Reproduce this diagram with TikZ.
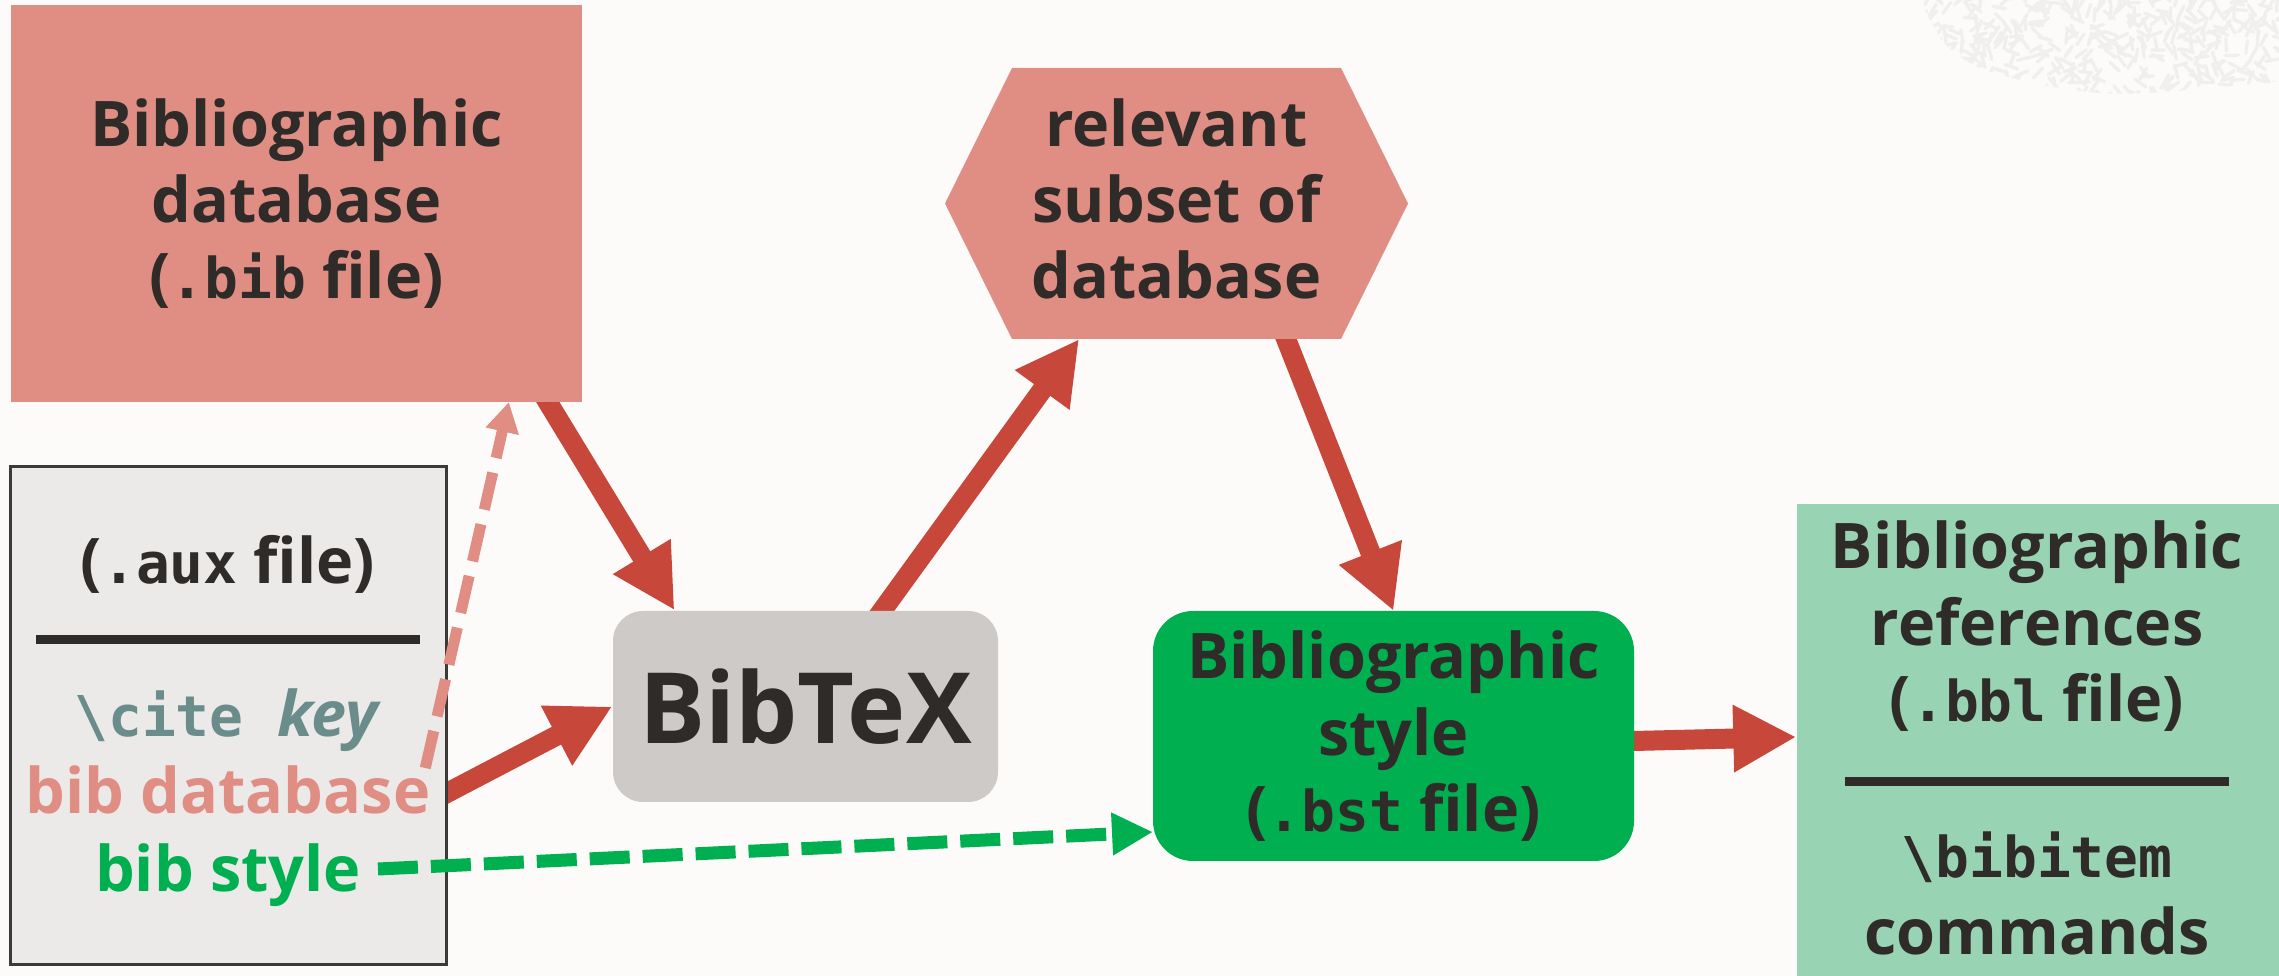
\documentclass[tikz,border=0pt]{standalone}
\usepackage{fontspec}
\setmainfont{Open Sans}
\setmonofont{DejaVu Sans Mono}
\usetikzlibrary{arrows.meta,calc}

\definecolor{paper}{HTML}{FCFBFA}
\definecolor{speckle}{HTML}{F0EFED}
\definecolor{ink}{HTML}{2F2B29}
\definecolor{salmon}{HTML}{E08D83}
\definecolor{brick}{HTML}{C7483A}
\definecolor{stone}{HTML}{CECAC8}
\definecolor{auxfill}{HTML}{EBEAE9}
\definecolor{auxedge}{HTML}{3C3A39}
\definecolor{leaf}{HTML}{00AF4F}
\definecolor{mint}{HTML}{98D3B3}
\definecolor{slate}{HTML}{6A8D8C}

% strut: every line gets the same height and depth
\newcommand\ls{\rule[-0.25\baselineskip]{0pt}{\baselineskip}}
\newcommand\mono[1]{{\fontsize{16}{21.63}\ttfamily #1}}

\pgfdeclarelayer{paperlayer}
\pgfdeclarelayer{arrowlayer}
\pgfsetlayers{paperlayer,arrowlayer,main}

\tikzset{
  boxtext/.style={font=\fontsize{17.9}{21.63}\selectfont\bfseries, text=ink,
    align=center, inner sep=0pt, outer sep=0pt},
  flow/.style={draw=brick, line width=2mm,
    -{Triangle[length=6.3mm,width=6.3mm]}, shorten <=-2mm},
  dbref/.style={draw=salmon, line width=1.1mm, dash pattern=on 3.8mm off 1.5mm,
    -{Triangle[length=3mm,width=3.2mm]}},
  styleref/.style={draw=leaf, line width=1.3mm, dash pattern=on 4mm off 1.3mm,
    -{Triangle[length=4.1mm,width=4mm]}},
  divider/.style={draw=ink, line width=0.9mm},
}

\begin{document}
\begin{tikzpicture}[x=0.1mm, y=-0.1mm]
\useasboundingbox (0,0) rectangle (2279,976);

% paper and speckled patch in the corner
\begin{pgfonlayer}{paperlayer}
  \fill[paper] (0,0) rectangle (2279,976);
  \begin{scope}
    \clip plot[smooth cycle] coordinates {(1937,32) (1985,70) (2100,93)
      (2230,86) (2300,70) (2300,-20) (1950,-20)};
    \pgfmathsetseed{7}
    \foreach \i in {1,...,420}{
      \pgfmathsetmacro\px{1925+rnd*370}
      \pgfmathsetmacro\py{-10+rnd*110}
      \pgfmathsetmacro\pa{rnd*360}
      \draw[speckle, line width=0.33mm, line cap=round] (\px,\py) -- ++(\pa:13);
    }
  \end{scope}
\end{pgfonlayer}

% bibliographic database
\node[boxtext, fill=salmon, minimum width=57.1mm, minimum height=39.7mm]
  (bibdb) at (296.5,203.5)
  {\ls Bibliographic\\\ls database\\\ls(\mono{.bib} file)};

% relevant subset (hexagon)
\fill[salmon] (945,203.5) -- (1012,68) -- (1341,68) -- (1408,203.5)
  -- (1341,339) -- (1012,339) -- cycle;
\node[boxtext, minimum width=32.9mm, minimum height=27.1mm]
  (subset) at (1176.5,203.5)
  {\ls relevant\\\ls subset of\\\ls database};

% aux file
\node[draw=auxedge, line width=0.3mm, fill=auxfill, minimum width=43.6mm,
  minimum height=49.8mm, inner sep=0pt] (aux) at (228,716) {};
\node[boxtext] (auxtitle) at (228,564) {\ls(\mono{.aux} file)};
\draw[divider] (36,640) -- (420,640);
\node[boxtext, text=slate] (citeline) at (228,717)
  {\ls\mono{\textbackslash cite~}\textit{key}};
\node[boxtext, text=salmon] (dbline) at (228,794) {\ls bib database};
\node[boxtext, text=leaf] (styleline) at (228,872) {\ls bib style};

% BibTeX program
\node[fill=stone, rounded corners=3mm, minimum width=38.5mm, minimum height=19.1mm,
  inner sep=0pt, font=\fontsize{28}{30}\selectfont\bfseries, text=ink]
  (bibtex) at (805.5,706.5) {BibTeX};

% bibliographic style
\node[boxtext, fill=leaf, rounded corners=4mm, minimum width=48.1mm,
  minimum height=25mm] (bibstyle) at (1393.5,736)
  {\ls Bibliographic\\\ls style\\\ls(\mono{.bst} file)};

% bbl output
\node[fill=mint, minimum width=48.2mm, minimum height=47.2mm, inner sep=0pt]
  (bbl) at (2038,740) {};
\node[boxtext] (bbltitle) at (2037,626)
  {\ls Bibliographic\\\ls references\\\ls(\mono{.bbl} file)};
\draw[divider] (1845,782) -- (2229,782);
\node[boxtext] (bblcmds) at (2037,897)
  {\ls\mono{\textbackslash bibitem}\\\ls commands};

% data flow
\begin{pgfonlayer}{arrowlayer}
  \draw[flow] ($(bibdb.south west)!0.94!(bibdb.south east)$)
    -- ($(bibtex.north west)!0.161!(bibtex.north east)$);
  \draw[flow] ($(bibtex.north west)!0.699!(bibtex.north east)$)
    -- ($(subset.south west)!0.204!(subset.south east)$);
  \draw[flow] ($(subset.south west)!0.833!(subset.south east)$)
    -- (bibstyle.north);
  \draw[flow] ($(bibstyle.east)+(0,5)$) -- ($(bbl.west)+(0,-3)$);
  \draw[flow] ($(aux.north east)!0.653!(aux.south east)$) -- (bibtex.west);
\end{pgfonlayer}

% references named in the aux file
\draw[dbref] ($(dbline.north east)+(-5,12)$)
  -- ($(bibdb.south west)!0.872!(bibdb.south east)$);
\draw[styleref] ($(styleline.east)+(17,-3)$)
  -- ($(bibstyle.south west)!0.116!(bibstyle.north west)$);
\end{tikzpicture}
\end{document}
